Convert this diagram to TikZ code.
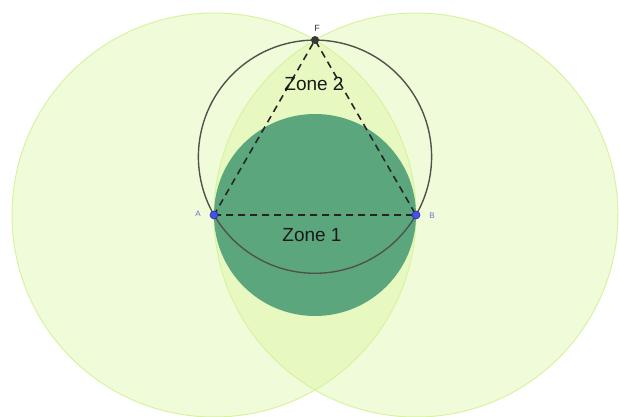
\documentclass[tikz,border=0pt]{standalone}
\usepackage{fontspec}
\setsansfont{Liberation Sans}
\usepackage{tikz}
\usetikzlibrary{calc}
\definecolor{lens}{RGB}{214,245,150}
\definecolor{lensline}{RGB}{215,243,160}
\definecolor{zone}{RGB}{92,166,126}
\definecolor{circ}{RGB}{80,82,76}
\definecolor{ptblue}{RGB}{70,80,235}
\definecolor{lblblue}{RGB}{105,115,200}

\begin{document}
\begin{tikzpicture}[x=1pt,y=1pt]
\useasboundingbox (0,0) rectangle (619,417);
\coordinate (A) at (214,202);
\coordinate (B) at (416,202);
\coordinate (F) at (315,377);
\coordinate (M) at (315,202);
\coordinate (O) at (315,260.3);
% the two large circles
\fill[lens,fill opacity=.36] (A) circle (202);
\fill[lens,fill opacity=.36] (B) circle (202);
\draw[lensline,line width=1] (A) circle (202);
\draw[lensline,line width=1] (B) circle (202);
% zone 1 disc and circle through A, B, F
\fill[zone] (M) circle (101);
\draw[circ,line width=1.4] (O) circle (116.6);
\draw[black!85,line width=1.6,dash pattern=on 7pt off 5pt] (A) -- (B) -- (F) -- cycle;
% points
\fill[ptblue,draw=ptblue!60!black,line width=.6] (A) circle (4);
\fill[ptblue,draw=ptblue!60!black,line width=.6] (B) circle (4);
\fill[circ!70!black] (F) circle (4);
\node[lblblue,font=\sffamily\fontsize{8}{9}\selectfont] (lA) at (198,203) {A};
\node[lblblue,font=\sffamily\fontsize{8}{9}\selectfont] (lB) at (432,201) {B};
\node[black!80,font=\sffamily\fontsize{9}{10}\selectfont] (lF) at (317,389) {F};
\node[black!90,font=\sffamily\fontsize{19}{20}\selectfont] (z2) at (314,333) {Zone 2};
\node[black!90,font=\sffamily\fontsize{19}{20}\selectfont] (z1) at (312,182) {Zone 1};
\end{tikzpicture}
\end{document}
